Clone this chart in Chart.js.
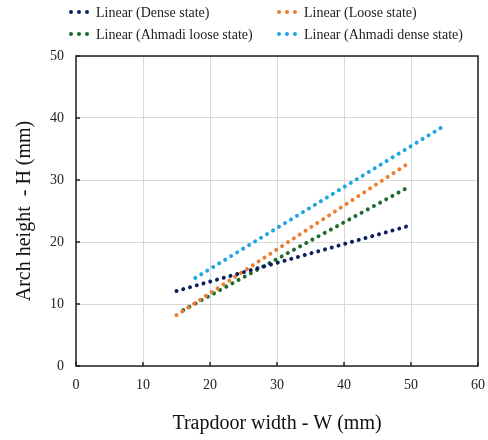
<!DOCTYPE html>
<html>
<head>
<meta charset="utf-8">
<script src="https://cdn.jsdelivr.net/npm/chart.js@4/dist/chart.umd.min.js"></script>
<style>
  html, body { margin: 0; padding: 0; background: #fff; }
  #wrap { width: 488px; height: 440px; }
</style>
</head>
<body>
<div id="wrap"><canvas id="archChart" width="488" height="440"></canvas></div>
<script>
// trend line end points (W in mm, H in mm)
var seriesNames = ['Linear (Dense state)', 'Linear (Loose state)', 'Linear (Ahmadi loose state)', 'Linear (Ahmadi dense state)'];
var denseW = [15, 50];
var denseH = [12.1, 22.7];
var looseW = [15, 49.5];
var looseH = [8.2, 32.6];
var ahmadiLooseW = [16, 49.2];
var ahmadiLooseH = [9.0, 28.6];
var ahmadiDenseW = [17.8, 55.2];
var ahmadiDenseH = [14.2, 38.9];
var xTicks = [0, 10, 20, 30, 40, 50, 60];
var yTicks = [0, 10, 20, 30, 40, 50];

var colors = ['#0b1f5e', '#ed7d31', '#1d6b2c', '#1ca6e4'];
var font = 'Liberation Serif';

function toPoints(xs, ys) {
  var pts = [];
  for (let i = 0; i < xs.length; i++) {
    pts.push({ x: xs[i], y: ys[i] });
  }
  return pts;
}

var allData = [
  toPoints(denseW, denseH),
  toPoints(looseW, looseH),
  toPoints(ahmadiLooseW, ahmadiLooseH),
  toPoints(ahmadiDenseW, ahmadiDenseH)
];

var datasets = [];
for (let i = 0; i < allData.length; i++) {
  datasets.push({
    label: seriesNames[i],
    data: allData[i],
    borderColor: colors[i],
    backgroundColor: colors[i],
    borderWidth: 4,
    borderDash: [0.01, 7],
    borderCapStyle: 'round',
    pointRadius: 0,
    tension: 0
  });
}

// legend in two fixed columns, with three dots as in the original
var dotLegend = {
  id: 'dotLegend',
  afterDraw(chart) {
    const ctx = chart.ctx;
    const spots = [[71, 12], [279, 12], [71, 34], [279, 34]];
    ctx.save();
    ctx.font = '14px "' + font + '"';
    ctx.textBaseline = 'middle';
    ctx.textAlign = 'left';
    chart.data.datasets.forEach((ds, i) => {
      const [x, y] = spots[i];
      ctx.fillStyle = ds.borderColor;
      for (let k = 0; k < 3; k++) {
        ctx.beginPath();
        ctx.arc(x + k * 8, y, 2, 0, Math.PI * 2);
        ctx.fill();
      }
      ctx.fillStyle = '#222';
      ctx.fillText(ds.label, x + 25, y + 1);
    });
    ctx.restore();
  }
};

// black frame round the plot plus small inward tick marks
var frame = {
  id: 'frame',
  afterDatasetsDraw(chart) {
    const ctx = chart.ctx;
    const a = chart.chartArea;
    const xs = chart.scales.x, ys = chart.scales.y;
    ctx.save();
    ctx.strokeStyle = '#222';
    ctx.lineWidth = 1.5;
    ctx.strokeRect(a.left, a.top, a.right - a.left, a.bottom - a.top);
    ctx.beginPath();
    xTicks.forEach(v => {
      const px = xs.getPixelForValue(v);
      ctx.moveTo(px, a.bottom);
      ctx.lineTo(px, a.bottom - 4);
    });
    yTicks.forEach(v => {
      const py = ys.getPixelForValue(v);
      ctx.moveTo(a.left, py);
      ctx.lineTo(a.left + 4, py);
    });
    ctx.stroke();
    ctx.restore();
  }
};

new Chart(document.getElementById('archChart'), {
  type: 'line',
  data: { datasets: datasets },
  plugins: [dotLegend, frame],
  options: {
    responsive: false,
    animation: false,
    layout: { padding: { top: 56, right: 10, left: 0, bottom: 0 } },
    plugins: {
      legend: { display: false },
      tooltip: { enabled: false }
    },
    scales: {
      x: {
        type: 'linear',
        min: 0,
        max: 60,
        afterBuildTicks(scale) { scale.ticks = xTicks.map(v => ({ value: v })); },
        afterFit(scale) {
          scale.height = 74;
          scale.paddingRight = 0;
          scale.paddingLeft = 0;
        },
        grid: { color: '#d9d9d9', lineWidth: 1, drawTicks: false },
        border: { display: false },
        ticks: {
          padding: 11,
          color: '#222',
          font: { family: font, size: 14 }
        },
        title: {
          display: true,
          text: 'Trapdoor width - W (mm)',
          color: '#111',
          font: { family: font, size: 20 },
          padding: { top: 19 }
        }
      },
      y: {
        type: 'linear',
        min: 0,
        max: 50,
        afterBuildTicks(scale) { scale.ticks = yTicks.map(v => ({ value: v })); },
        afterFit(scale) { scale.width = 76; },
        grid: { color: '#d9d9d9', lineWidth: 1, drawTicks: false },
        border: { display: false },
        ticks: {
          padding: 12,
          color: '#222',
          font: { family: font, size: 14 }
        },
        title: {
          display: true,
          text: 'Arch height  - H (mm)',
          color: '#111',
          font: { family: font, size: 20 },
          padding: { top: 13, bottom: 0 }
        }
      }
    }
  }
});
</script>
</body>
</html>
